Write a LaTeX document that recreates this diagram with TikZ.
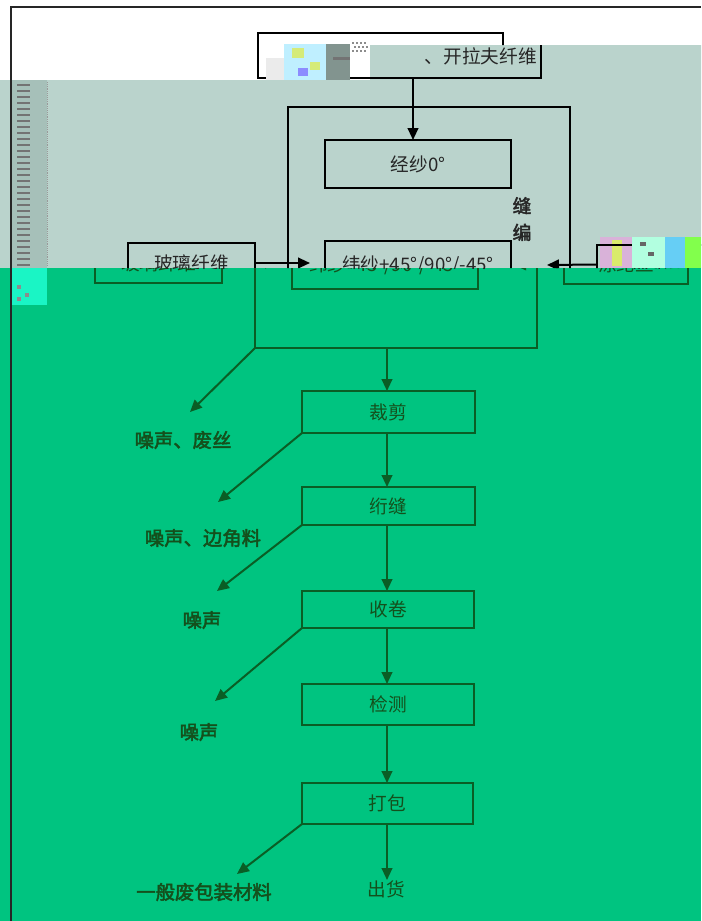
\documentclass[tikz,border=0pt]{standalone}
\usepackage{fontspec}
\setmainfont{Noto Sans CJK SC}
\newfontfamily\cjkb[FakeBold=2.5]{Noto Sans CJK SC}
\usetikzlibrary{arrows.meta}
\definecolor{bggreen}{HTML}{00C480}
\definecolor{bggray}{HTML}{BAD3CC}
\definecolor{stripgray}{HTML}{A6C0B9}
\definecolor{dkgreen}{HTML}{0A5E25}
\definecolor{lblgreen}{HTML}{14501C}
\definecolor{glcyan}{HTML}{1AF5C5}
\colorlet{linecol}{black}
\colorlet{txtcol}{black!85}
\tikzset{
  pbox/.style={draw=linecol, line width=2pt, inner sep=0pt, outer sep=0pt, text=txtcol, font=\fontsize{14}{16}\selectfont},
  arr/.style={draw=linecol, line width=1.5pt, -{Triangle[length=9pt,width=8pt]}},
  lbl/.style={text=lblgreen, font=\cjkb\fontsize{14.5}{16}\selectfont, inner sep=0pt},
  plain/.style={text=txtcol, font=\fontsize{14}{16}\selectfont, inner sep=0pt},
}
\newcommand\pbox[6]{\node[pbox, minimum width={(#4-#2)*0.75pt}, minimum height={(#5-#3)*0.75pt}] (#1) at ({(#2+#4)/2},{(#3+#5)/2}) {#6};}
% #1 suffix, #2 texts of the upper part, #3 texts of the lower part
\newcommand\updiag[3]{%
  \pbox{B#1}{288}{107}{570}{348}{}
  \pbox{T#1}{296}{33}{541}{78}{}
  \ifnum#2=1 \node[plain, anchor=east] (Tt#1) at (537,56) {、开拉夫纤维};\fi
  \pbox{J#1}{325}{140}{511}{188}{\ifnum#2=1 经纱0°\fi}
  \pbox{W#1}{325}{241}{511}{289}{\ifnum#3=1 纬纱+45°/90°/-45°\fi}
  \pbox{G#1}{128}{243}{255}{283}{\ifnum#3=1 玻璃纤维\fi}
  \pbox{D#1}{597}{245}{721}{284}{\ifnum#3=1 涤纶丝\fi}
  \ifnum#2=1 \node[plain, font=\cjkb\fontsize{14}{20}\selectfont, align=center] (F#1) at (522,219) {缝\\编};\fi
  \coordinate (ta#1) at (413,78);
  \draw[arr] (ta#1) -- (ta#1 |- J#1.north);
  \coordinate (ga#1) at (310,263);
  \draw[arr] (G#1.east) -- (ga#1);
  \coordinate (da#1) at (547,265);
  \draw[arr] (D#1.west) -- (da#1);
}
\begin{document}
\begin{tikzpicture}[x=0.75pt,y=-0.75pt]
\useasboundingbox (0,0) rectangle (701,921);
% backgrounds
\fill[white] (0,0) rectangle (701,921);
\fill[bggray] (0,80) -- (370,80) -- (370,45) -- (701,45) -- (701,268) -- (0,268) -- cycle;
\fill[bggreen] (0,268) rectangle (701,921);
% left strip
\fill[stripgray] (12,80) rectangle (47,268);
\foreach \yy in {85,91,...,265} \draw[black!55, line width=0.9pt] (17,\yy) -- (30,\yy);
\draw[black!40, densely dotted] (47,82) -- (47,266);
\fill[glcyan] (12,268) rectangle (47,305);
\fill[black!45] (17,285) rectangle (21,289);
\fill[black!45] (25,293) rectangle (29,297);
\fill[black!45] (17,297) rectangle (21,301);
% white region part (shifted)
\begin{scope}
  \clip (0,0) -- (701,0) -- (701,45) -- (370,45) -- (370,80) -- (0,80) -- cycle;
  \begin{scope}[xshift=-28.5pt]
    \updiag{w}{0}{0}
  \end{scope}
\end{scope}
% gray region part
\begin{scope}
  \clip (0,80) -- (370,80) -- (370,45) -- (701,45) -- (701,268) -- (0,268) -- cycle;
  \updiag{g}{1}{1}
\end{scope}
% green region part (shifted)
\begin{scope}
  \colorlet{linecol}{dkgreen}\colorlet{txtcol}{lblgreen}
  \clip (0,268) rectangle (701,921);
  \begin{scope}[xshift=-24.75pt]
    \updiag{n}{0}{1}
  \end{scope}
\end{scope}
% glitch patches
\fill[black!8] (266,58) rectangle (284,80);
\fill[blue!25!cyan!25!white] (284,44) rectangle (326,80);
\fill[yellow!70!green!55!white] (292,48) rectangle (304,58);
\fill[yellow!70!green!55!white] (310,62) rectangle (320,70);
\fill[blue!45!white] (298,68) rectangle (308,76);
\fill[black!30!bggray] (326,44) rectangle (350,80);
\fill[black!55] (333,57) rectangle (350,60);
\foreach \i in {0,1,2,3} \foreach \j in {0,1,2} {\fill[black!45] ({352+4*\i+2*mod(\j,2)},{42+4*\j}) rectangle +(2,2);}
\fill[violet!30!white] (600,237) rectangle (632,268);
\fill[yellow!75!green!60!white] (612,240) rectangle (622,266);
\fill[green!40!cyan!30!white] (632,237) rectangle (665,268);
\fill[black!60] (640,242) rectangle (646,246);
\fill[black!60] (648,252) rectangle (654,256);
\fill[cyan!60!white] (665,237) rectangle (685,268);
\fill[green!70!yellow!70!white] (685,237) rectangle (701,268);
\draw[black, line width=2pt] (597,268) -- (597,245) -- (632,245);
% lower flowchart (green region)
\begin{scope}
  \colorlet{linecol}{dkgreen}\colorlet{txtcol}{lblgreen}
  \pbox{C1}{302}{391}{475}{433}{裁剪}
  \pbox{C2}{302}{487}{475}{525}{绗缝}
  \pbox{C3}{302}{591}{474}{628}{收卷}
  \pbox{C4}{302}{684}{474}{725}{检测}
  \pbox{C5}{302}{783}{473}{824}{打包}
  \node[plain, anchor=north] (S) at (386,880) {出货};
  \node[lbl] (L1) at (183,440) {噪声、废丝};
  \node[lbl] (L2) at (203,538) {噪声、边角料};
  \node[lbl] (L3) at (202,620) {噪声};
  \node[lbl] (L4) at (199,732) {噪声};
  \node[lbl] (L5) at (204,892) {一般废包装材料};
  \coordinate (b0) at (387,348);
  \draw[arr] (b0) -- (b0 |- C1.north);
  \draw[arr] (C1.south -| b0) -- (C2.north -| b0);
  \draw[arr] (C2.south -| b0) -- (C3.north -| b0);
  \draw[arr] (C3.south -| b0) -- (C4.north -| b0);
  \draw[arr] (C4.south -| b0) -- (C5.north -| b0);
  \draw[arr] (C5.south -| b0) -- (S.north -| b0);
  \coordinate (e1) at (190,412);
  \coordinate (e2) at (218,502);
  \coordinate (e3) at (217,591);
  \coordinate (e4) at (215,701);
  \coordinate (e5) at (237,874);
  \draw[arr] (Bn.south west) -- (e1);
  \draw[arr] (C1.south west) -- (e2);
  \draw[arr] (C2.south west) -- (e3);
  \draw[arr] (C3.south west) -- (e4);
  \draw[arr] (C5.south west) -- (e5);
\end{scope}
% frame
\draw[black!85, line width=1pt] (11,921) -- (11,7) -- (701,7);
\end{tikzpicture}
\end{document}
